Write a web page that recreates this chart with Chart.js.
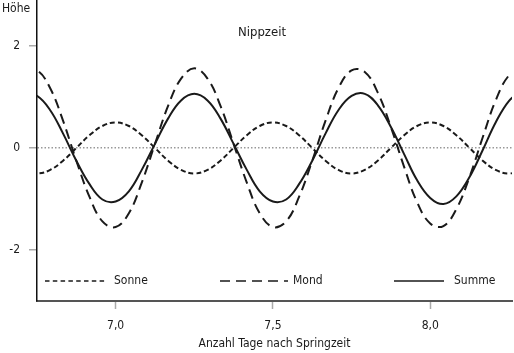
<!DOCTYPE html>
<html>
<head>
<meta charset="utf-8">
<title>Nippzeit</title>
<script src="https://cdn.jsdelivr.net/npm/chart.js@4.4.1/dist/chart.umd.min.js"></script>
<style>
  html, body { margin: 0; padding: 0; background: #fff; }
</style>
</head>
<body>
<canvas id="chart" width="514" height="353"></canvas>
<script>
// Tage nach Springzeit (one reading per hour)
const days = [6.708, 6.75, 6.792, 6.833, 6.875, 6.917, 6.958, 7.0, 7.042, 7.083,
              7.125, 7.167, 7.208, 7.25, 7.292, 7.333, 7.375, 7.417, 7.458, 7.5,
              7.542, 7.583, 7.625, 7.667, 7.708, 7.75, 7.792, 7.833, 7.875, 7.917,
              7.958, 8.0, 8.042, 8.083, 8.125, 8.167, 8.208, 8.25, 8.292];

// Höhe of each tide component
const sonne = [-0.43, -0.5, -0.43, -0.25, 0, 0.25, 0.43, 0.5, 0.43, 0.25,
               0, -0.25, -0.43, -0.5, -0.43, -0.25, 0, 0.25, 0.43, 0.5,
               0.43, 0.25, 0, -0.25, -0.43, -0.5, -0.43, -0.25, 0, 0.25,
               0.43, 0.5, 0.43, 0.25, 0, -0.25, -0.43, -0.5, -0.43];
const mond = [1.49, 1.52, 1.17, 0.53, -0.25, -0.96, -1.44, -1.55, -1.28, -0.68,
              0.08, 0.83, 1.36, 1.56, 1.36, 0.83, 0.08, -0.68, -1.28, -1.55,
              -1.44, -0.96, -0.25, 0.53, 1.17, 1.52, 1.49, 1.09, 0.41, -0.37,
              -1.06, -1.48, -1.53, -1.20, -0.57, 0.21, 0.93, 1.42, 1.56];
const summe = [1.06, 1.02, 0.74, 0.28, -0.25, -0.71, -1.01, -1.05, -0.85, -0.43,
               0.08, 0.58, 0.93, 1.06, 0.93, 0.58, 0.08, -0.43, -0.85, -1.05,
               -1.01, -0.71, -0.25, 0.28, 0.74, 1.02, 1.06, 0.84, 0.41, -0.12,
               -0.63, -0.98, -1.10, -0.95, -0.57, -0.04, 0.50, 0.92, 1.13];

const xTicks = [7.0, 7.5, 8.0];
const yTicks = [-2, 0, 2];

const FONT = '"Liberation Sans Narrow", "DejaVu Sans Condensed", "Roboto", sans-serif';
const INK = '#1a1a1a';

const toPoints = ys => days.map((d, i) => ({ x: d, y: ys[i] }));

// legend sits inside the plot, just above the x axis
const legendSlots = [
  { x0: 45, x1: 107, tx: 114 },
  { x0: 220, x1: 288, tx: 293 },
  { x0: 394, x1: 444, tx: 454 }
];

const extraText = {
  id: 'extraText',
  afterDraw(chart) {
    const { ctx, chartArea } = chart;
    ctx.save();
    ctx.fillStyle = INK;
    ctx.textBaseline = 'middle';

    ctx.font = '12px ' + FONT;
    ctx.textAlign = 'left';
    ctx.fillText('Höhe', 2, 9);

    ctx.font = '13px ' + FONT;
    ctx.textAlign = 'center';
    ctx.fillText('Nippzeit', 262, 33);

    const y = chartArea.bottom - 20;
    ctx.font = '12px ' + FONT;
    ctx.textAlign = 'left';
    chart.data.datasets.forEach((ds, i) => {
      const slot = legendSlots[i];
      ctx.save();
      ctx.strokeStyle = ds.borderColor;
      ctx.lineWidth = 1.5;
      ctx.setLineDash(ds.legendDash || ds.borderDash || []);
      ctx.beginPath();
      ctx.moveTo(slot.x0, y);
      ctx.lineTo(slot.x1, y);
      ctx.stroke();
      ctx.restore();
      ctx.fillText(ds.label, slot.tx, y);
    });
    ctx.restore();
  }
};

new Chart(document.getElementById('chart'), {
  type: 'line',
  data: {
    datasets: [
      {
        label: 'Sonne',
        data: toPoints(sonne),
        borderColor: INK,
        borderWidth: 2,
        borderDash: [5, 3],
        legendDash: [4.5, 3.3],
        pointRadius: 0,
        tension: 0.4,
        fill: false
      },
      {
        label: 'Mond',
        data: toPoints(mond),
        borderColor: INK,
        borderWidth: 2,
        borderDash: [10, 6],
        pointRadius: 0,
        tension: 0.4,
        fill: false
      },
      {
        label: 'Summe',
        data: toPoints(summe),
        borderColor: INK,
        borderWidth: 2,
        pointRadius: 0,
        tension: 0.4,
        fill: false
      }
    ]
  },
  options: {
    responsive: false,
    animation: false,
    devicePixelRatio: 1,
    layout: { padding: { top: 0, right: 2, bottom: 0, left: 0 } },
    plugins: {
      legend: { display: false },
      tooltip: { enabled: false }
    },
    scales: {
      x: {
        type: 'linear',
        min: 6.75,
        max: 8.26,
        afterBuildTicks: axis => { axis.ticks = xTicks.map(v => ({ value: v })); },
        afterFit: scale => {
          scale.height = 52;
          scale.paddingLeft = 0;
          scale.paddingRight = 0;
        },
        ticks: {
          color: INK,
          font: { family: FONT, size: 12 },
          padding: 10,
          maxRotation: 0,
          callback: v => v.toFixed(1).replace('.', ',')
        },
        grid: {
          drawOnChartArea: false,
          drawTicks: true,
          tickLength: 8,
          tickColor: '#aaa',
          tickWidth: 1.5
        },
        border: { color: '#555', width: 2 },
        title: {
          display: true,
          text: 'Anzahl Tage nach Springzeit',
          color: INK,
          font: { family: FONT, size: 12 },
          padding: { top: 0, bottom: 2 }
        }
      },
      y: {
        min: -3,
        max: 2.9,
        afterBuildTicks: axis => { axis.ticks = yTicks.map(v => ({ value: v })); },
        afterFit: scale => {
          scale.width = 37;
          scale.paddingTop = 0;
          scale.paddingBottom = 0;
        },
        ticks: {
          color: INK,
          font: { family: FONT, size: 12 },
          padding: 9,
          callback: v => String(v)
        },
        grid: {
          color: c => (c.tick && c.tick.value === 0 ? '#999' : 'rgba(0,0,0,0)'),
          lineWidth: 1.5,
          tickLength: 8,
          tickColor: '#aaa',
          tickWidth: 1.5
        },
        border: { color: '#111', width: 1.5, dash: [1.5, 2] }
      }
    }
  },
  plugins: [extraText]
});
</script>
</body>
</html>
